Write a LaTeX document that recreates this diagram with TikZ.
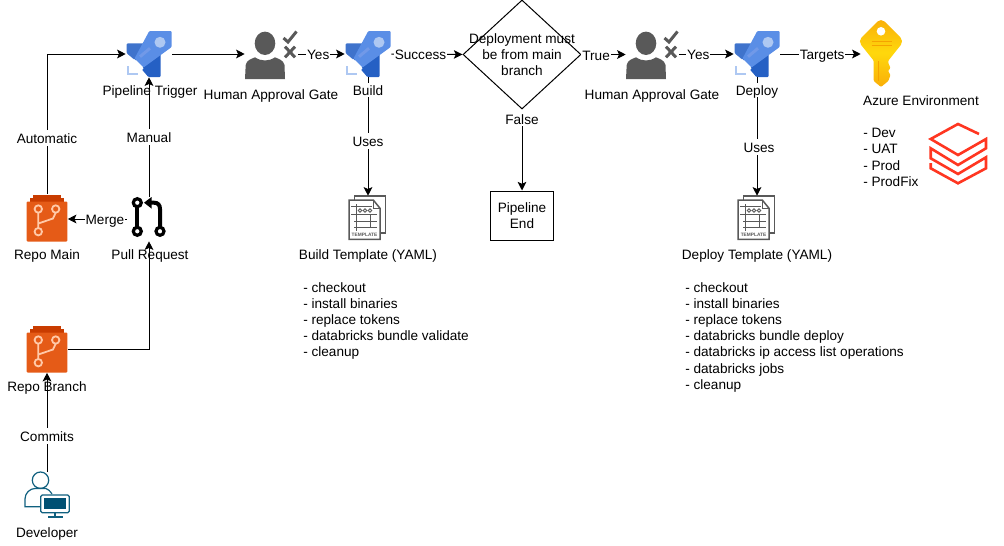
\documentclass[tikz,border=0pt]{standalone}
\usepackage{fontspec}
\setmainfont{Liberation Sans}
\usetikzlibrary{arrows.meta, shapes.geometric}
\newlength{\pxunit}
\setlength{\pxunit}{0.75pt}
\definecolor{rocketbody}{HTML}{5A8EE6}
\definecolor{rocketwing}{HTML}{3F73CC}
\definecolor{rocketlow}{HTML}{2560C4}
\definecolor{rocketpale}{HTML}{AEC8F2}
\definecolor{rocketstreak}{HTML}{7199E8}
\definecolor{gategrey}{HTML}{595959}
\definecolor{repobody}{HTML}{E55B17}
\definecolor{repocap}{HTML}{C93C00}
\definecolor{repoline}{HTML}{FFC9A8}
\definecolor{devblue}{HTML}{10607F}
\definecolor{devscreen}{HTML}{005073}
\definecolor{keyedge}{HTML}{F9AE08}
\definecolor{keymid}{HTML}{FFD80C}
\definecolor{keybar}{HTML}{F5A300}
\definecolor{stackred}{HTML}{FF3621}
\tikzset{every node/.style = {font=\fontsize{10.2}{12.15}\selectfont}}
\tikzset{rocketbox/.style = {shape=rectangle,inner sep=0,minimum width=46\pxunit,minimum height=46\pxunit}}
\tikzset{gatebox/.style = {shape=rectangle,inner sep=0,minimum width=53\pxunit,minimum height=47\pxunit}}
\tikzset{repobox/.style = {shape=rectangle,inner sep=0,minimum width=41\pxunit,minimum height=47\pxunit}}
\tikzset{prbox/.style = {shape=rectangle,inner sep=0,minimum width=44\pxunit,minimum height=44\pxunit}}
\tikzset{tplbox/.style = {shape=rectangle,inner sep=0,minimum width=38\pxunit,minimum height=44\pxunit}}
\tikzset{keybox/.style = {shape=rectangle,inner sep=0,minimum width=40\pxunit,minimum height=64\pxunit}}
\tikzset{devbox/.style = {shape=rectangle,inner sep=0,minimum width=46\pxunit,minimum height=46\pxunit}}
\tikzset{decision/.style = {shape=diamond,draw,inner sep=0,line width=1\pxunit,minimum width=118\pxunit,minimum height=109\pxunit}}
\tikzset{endbox/.style = {shape=rectangle,draw,align=center,inner sep=0,line width=1\pxunit,minimum width=63\pxunit,minimum height=49\pxunit}}
\tikzset{edge/.style = {->,> = {Stealth[length=6.5pt,width=6.5pt,inset=1.5pt]},line width=1\pxunit}}
\tikzset{edgetext/.style = {fill=white,inner sep=1\pxunit,text height=9.5pt,text depth=1pt}}
\tikzset{caption/.style = {inner sep=0,text height=9.5pt,text depth=1pt}}
\tikzset{listtext/.style = {align=left,anchor=north west,inner sep=0}}
\tikzset{rocket/.pic = {
                \fill[rocketwing,rounded corners=1\pxunit] (-22.3,-10.7) -- (-4,-10.7) -- (-13,7) -- (-22.3,-0.7) -- cycle;
                \fill[rocketlow,rounded corners=1\pxunit] (11.7,-4) -- (11.7,23) -- (-0.7,23) -- (-7.5,15) -- cycle;
                \draw[white,line width=2.5\pxunit] (-15.5,6) -- (-6.5,15.5);
                \fill[rocketbody,rounded corners=1\pxunit] (0.3,-23) -- (22.7,-23) -- (22.7,-7) -- (-5.5,13.5) -- (-14.5,4.5) -- cycle;
                \draw[rocketstreak,line width=3\pxunit] (-9,2.7) -- (1,-5.7);
                \fill[rocketpale] (11,-11.7) circle (5.5);
                \draw[rocketpale,line width=2.5\pxunit] (-21,12) -- (-21,20) -- (-11.5,20);
}}
\tikzset{gate/.pic = {
                \fill[gategrey] (-6.5,-11.7) ellipse (10.3 and 11.7);
                \fill[gategrey] (-26.5,24) -- (-25.8,10) .. controls (-25,5) and (-20,4) .. (-16.5,2.3) .. controls (-13,4.5) and (-10,5.5) .. (-6.5,5.5) .. controls (-3,5.5) and (0,4.5) .. (3.5,2.3) .. controls (7,4) and (12,5) .. (13,10) -- (13.5,24) -- cycle;
                \draw[gategrey,line width=3\pxunit] (12,-17) -- (16.5,-13) -- (25,-23.5);
                \draw[gategrey,line width=3\pxunit] (13.5,-8.3) -- (23.5,2.3) (13.5,2.3) -- (23.5,-8.3);
}}
\tikzset{repo/.pic = {
                \fill[repocap] (-14,-23.5) rectangle (14,-19);
                \fill[repocap] (-17,-20) rectangle (17,-15);
                \fill[repobody,rounded corners=1\pxunit] (-20.3,-16.5) rectangle (20.3,23.5);
                \draw[repoline,line width=1.8\pxunit] (-8.7,-5.3) -- (-8.7,10) (-8.7,5.5) -- (6,0.5) -- (8.7,-5.3);
                \draw[repoline,line width=1.8\pxunit] (-8.7,-9) circle (3.7) (8.7,-9) circle (3.7) (-8.7,13.7) circle (3.7);
}}
\tikzset{pullreq/.pic = {
                \draw[line width=4\pxunit] (-11.7,-12.5) -- (-11.7,8.5);
                \draw[line width=4\pxunit] (1,-16.3) -- (5,-16.3) .. controls (9,-16.3) and (11,-14) .. (11,-10) -- (11,8.5);
                \fill (-5,-16.3) -- (2.5,-22) -- (2.5,-10.5) -- cycle;
                \draw[line width=3.2\pxunit] (-11.7,-16.3) circle (4) (-11.7,12.3) circle (4) (11,12.3) circle (4);
}}
\tikzset{template/.pic = {
                \draw[gategrey,line width=1.5\pxunit] (-13.7,-22) rectangle (17.7,15);
                \draw[gategrey,fill=white,line width=1.5\pxunit] (-19,-18) -- (5.3,-18) -- (12,-9.7) -- (12,21.3) -- (-19,21.3) -- cycle;
                \draw[gategrey,line width=1\pxunit] (5.3,-18) -- (5.3,-9.7) -- (12,-9.7);
                \draw[gategrey,line width=1\pxunit] (-17,-11.3) -- (4,-11.3) (-17,-4) -- (9,-4) (-14,3.7) -- (9,3.7) (-14,9.3) -- (9,9.3) (-12,-14) -- (-12,12.5) (2,-4) -- (2,9.3);
                \draw[gategrey,line width=0.8\pxunit] (-8,-7.5) circle (1.7) (-3,-7.5) circle (1.7) (2,-7.5) circle (1.7);
                \node[inner sep=0,text=gategrey,font=\fontsize{3.6}{4}\selectfont\bfseries] (-word) at (-3.5,16.5) {TEMPLATE};
}}
\tikzset{azurekey/.pic = {
                \shade[top color=keyedge,bottom color=keyedge,middle color=keymid] (7.3,6.7) [rounded corners=5\pxunit] -- (23,-13) -- (0,-36) -- (-23,-13) [rounded corners=1\pxunit] -- (-7.3,6.7) -- (-7.3,27) -- (0,33) -- (7.3,27) -- (9.5,21) -- (7,17) -- (9.5,14) -- (7.3,9) -- cycle;
                \fill[white] (0,-22.7) circle (4.3);
                \draw[keybar,line width=1.2\pxunit] (-9.3,-12.7) -- (10.7,-12.7) (-9.3,-8.3) -- (10.7,-8.3);
                \draw[keybar,line width=1\pxunit] (-2.7,7.3) -- (-2.7,27);
}}
\tikzset{bricks/.pic = {
                \draw[stackred,line width=2.6\pxunit] (21,-19) -- (0,-29) -- (-27.3,-14) -- (0,2) -- (28,-14) -- (28,-4.7) -- (0,12) -- (-27.3,-4.7) -- (-27.3,5.3) -- (0,21) -- (28,4.3) -- (28,15.3) -- (0,30.3) -- (-27.3,15.3) -- (-27.3,10);
}}
\tikzset{developer/.pic = {
                \draw[devblue,line width=1.2\pxunit] (-6.5,-14.8) circle (8.2);
                \draw[devblue,line width=1.2\pxunit] (-6,11.7) -- (-22,11.7) -- (-22,4) .. controls (-22,-2) and (-17,-6.5) .. (-12,-6.5) -- (-1,-6.5) .. controls (1,-6) and (3,-4) .. (5,-1);
                \draw[devblue,fill=white,line width=1.2\pxunit,rounded corners=1.5\pxunit] (-6.3,0) rectangle (22.3,17.7);
                \fill[devscreen] (-3,2.7) rectangle (19,14.3);
                \fill[devblue] (6.7,17.7) rectangle (9.3,21);
                \fill[devblue] (1.3,20.5) rectangle (15.7,22.5);
}}
\begin{document}
\begin{tikzpicture}[x=1\pxunit,y=-1\pxunit]
                \useasboundingbox (0,0) rectangle (1004,546);
                \node[rocketbox] (trigger) at (149,54) {};
                \pic at (trigger) {rocket};
                \node[gatebox] (gatea) at (271.5,55) {};
                \pic at (gatea) {gate};
                \node[rocketbox] (build) at (368,54) {};
                \pic at (build) {rocket};
                \node[decision,label={[align=center,inner sep=0]center:Deployment must\\be from main\\branch}] (check) at (522,54.5) {};
                \node[gatebox] (gateb) at (652.5,55) {};
                \pic at (gateb) {gate};
                \node[rocketbox] (deploy) at (757,54) {};
                \pic at (deploy) {rocket};
                \node[keybox] (azure) at (881,54) {};
                \pic at (azure) {azurekey};
                \node[repobox] (repomain) at (47,218) {};
                \pic at (repomain) {repo};
                \node[prbox] (pr) at (149,219) {};
                \pic at (pr) {pullreq};
                \node[repobox] (repobranch) at (47,349) {};
                \pic at (repobranch) {repo};
                \node[devbox] (dev) at (47,495) {};
                \pic at (dev) {developer};
                \node[tplbox] (buildtpl) at (368,218) {};
                \pic (buildicon) at (buildtpl) {template};
                \node[tplbox] (deploytpl) at (757,218) {};
                \pic (deployicon) at (deploytpl) {template};
                \node[endbox] (pipeend) at (522,215.5) {Pipeline\\End};
                \pic at (958,153) {bricks};
                \draw[edge] (repomain.north) |- (trigger.west) node [pos=0.2, edgetext] {Automatic};
                \draw[edge] (pr.north) -- (trigger.south) node [pos=0.5, edgetext] {Manual};
                \draw[edge] (pr.west) -- (repomain.east |- pr.west) node [pos=0.37, edgetext] {Merge};
                \draw[edge] (repobranch.east) -| (pr.south);
                \draw[edge] (dev.north) -- (repobranch.south) node [pos=0.36, edgetext] {Commits};
                \draw[edge] (trigger.east) -- (gatea.west |- trigger.east);
                \draw[edge] (gatea.east |- build.west) -- (build.west) node [pos=0.43, edgetext] {Yes};
                \draw[edge] (build.east) -- (check.west) node [pos=0.41, edgetext] {Success};
                \draw[edge] (check.east) -- (gateb.west |- check.east) node [pos=0.33, edgetext] {True};
                \draw[edge] (gateb.east |- deploy.west) -- (deploy.west) node [pos=0.35, edgetext] {Yes};
                \draw[edge] (deploy.east) -- (azure.west) node [pos=0.52, edgetext] {Targets};
                \draw[edge] (build.south) -- (buildtpl.north) node [pos=0.54, edgetext] {Uses};
                \draw[edge] (deploy.south) -- (deploytpl.north) node [pos=0.585, edgetext, xshift=2\pxunit] {Uses};
                \draw[edge] (check.south) -- (pipeend.north) node [pos=0.11, edgetext] {False};
                \node[caption] (triggerlabel) at (150,90) {Pipeline Trigger};
                \node[caption] (gatealabel) at (271,94) {Human Approval Gate};
                \node[caption,fill=white] (buildlabel) at (368,90) {Build};
                \node[caption] (gateblabel) at (652,94) {Human Approval Gate};
                \node[caption,fill=white] (deploylabel) at (757,90) {Deploy};
                \node[caption] (azurelabel) at (921,100) {Azure Environment};
                \node[caption] (mainlabel) at (47,254) {Repo Main};
                \node[caption] (prlabel) at (150,254) {Pull Request};
                \node[caption] (branchlabel) at (47,386) {Repo Branch};
                \node[caption] (devlabel) at (47,532) {Developer};
                \node[caption] (buildtpllabel) at (368,254) {Build Template (YAML)};
                \node[caption] (deploytpllabel) at (757,254) {Deploy Template (YAML)};
                \node[listtext] (envlist) at (863,128) {- Dev\\- UAT\\- Prod\\- ProdFix};
                \node[listtext] (buildlist) at (303,282) {- checkout\\- install binaries\\- replace tokens\\- databricks bundle validate\\- cleanup};
                \node[listtext] (deploylist) at (685,282) {- checkout\\- install binaries\\- replace tokens\\- databricks bundle deploy\\- databricks ip access list operations\\- databricks jobs\\- cleanup};
            \end{tikzpicture}
\end{document}
